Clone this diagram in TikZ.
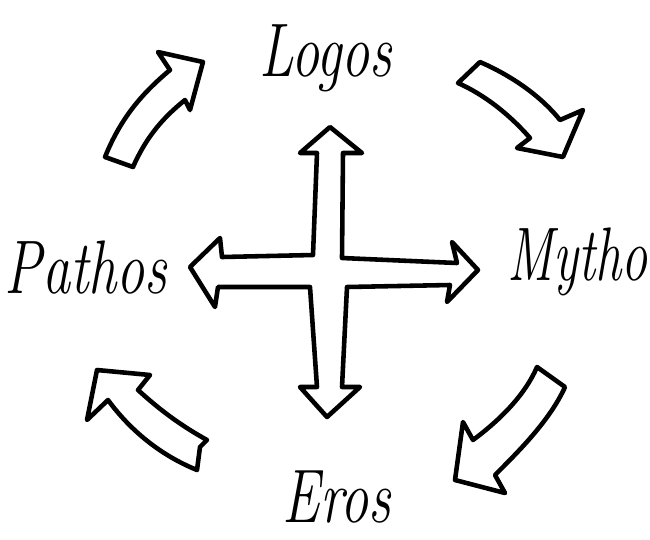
\documentclass[tikz,border=0pt]{standalone}
\usepackage{tikz}
\usetikzlibrary{positioning}

\begin{document}
\begin{tikzpicture}[x=0.02cm, y=-0.02cm, line join=round,
  word/.style={font=\fontsize{32}{32}\selectfont\itshape, inner sep=0pt, yscale=1.35, transform shape},
  blockarrow/.style={draw, line width=2.6pt, fill=white}]
\useasboundingbox (0,0) rectangle (650,539);
\node[word] (logos) at (326,58) {Logos};
\node[word, anchor=east, xscale=0.93] (mythos) at (648,262) {Mytho};
\node[word] (pathos) at (86,268) {Pathos};
\node[word] (eros) at (337,497) {Eros};
\draw[blockarrow] (330,127) -- (362,153) -- (343,153) -- (342,258) -- (457,263) -- (452,242) -- (478,270) -- (447,302) -- (450,285) -- (347,287) -- (342,387) -- (360,387) -- (327,417) -- (300,387) -- (317,387) -- (310,287) -- (218,287) -- (215,307) -- (190,267) -- (220,238) -- (222,257) -- (313,255) -- (317,153) -- (300,153) -- cycle;
\draw[blockarrow] (105,157) .. controls (120,120) and (140,95) .. (170,70) -- (158,52) -- (203,62) -- (190,110) -- (185,100) .. controls (160,120) and (145,140) .. (133,167) -- cycle;
\draw[blockarrow] (480,62) .. controls (510,75) and (540,95) .. (560,120) -- (583,110) -- (563,157) -- (517,148) -- (530,138) .. controls (510,115) and (485,95) .. (458,83) -- cycle;
\draw[blockarrow] (565,387) .. controls (550,420) and (520,450) .. (495,475) -- (505,493) -- (455,480) -- (463,422) -- (473,440) .. controls (500,420) and (525,395) .. (537,367) -- cycle;
\draw[blockarrow] (207,440) .. controls (180,425) and (160,410) .. (138,390) -- (150,375) -- (97,370) -- (87,420) -- (108,400) .. controls (130,430) and (160,455) .. (197,470) -- (200,447) -- cycle;
\end{tikzpicture}
\end{document}
